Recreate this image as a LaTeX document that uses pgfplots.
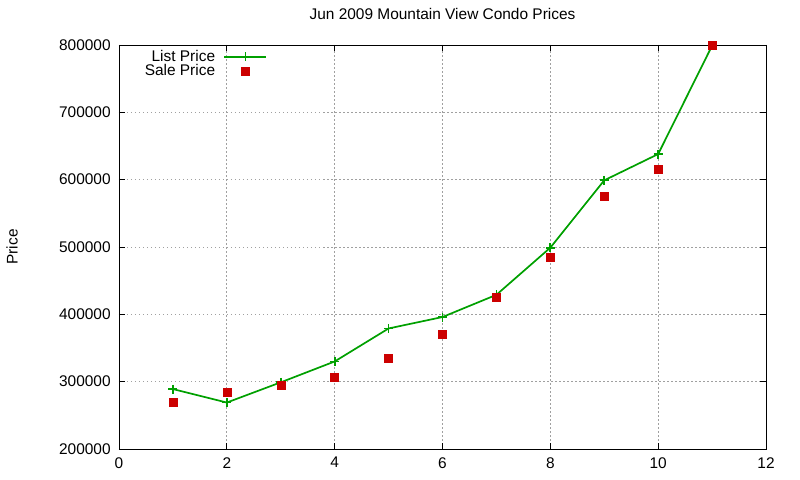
\documentclass[border=0pt]{standalone}
\usepackage{fontspec}
\setmainfont{Liberation Sans}
\usepackage{pgfplots}
\pgfplotsset{compat=1.18}

\definecolor{listgreen}{RGB}{0,160,0}
\definecolor{salered}{RGB}{204,0,0}
\definecolor{gridgray}{RGB}{160,160,160}

\begin{document}
\fontsize{15.5}{18}\selectfont
\begin{tikzpicture}
\begin{axis}[
  scale only axis,
  width=647bp, height=404bp,
  xmin=0, xmax=12, ymin=200000, ymax=800000,
  xtick={0,2,...,12},
  ytick={200000,300000,...,800000},
  scaled y ticks=false,
  /pgf/number format/fixed,
  /pgf/number format/1000 sep={},
  /pgf/number format/assume math mode=true,
  tick align=inside,
  major tick length=6bp,
  tick style={black, line width=0.8bp},
  axis line style={line width=0.8bp},
  grid=major,
  grid style={gridgray, line width=0.8bp, dash pattern=on 1.5bp off 2.5bp},
  xticklabel style={yshift=-3bp},
  yticklabel style={xshift=-3bp},
  title={Jun 2009 Mountain View Condo Prices},
  title style={at={(rel axis cs:0.5,1)}, yshift=25bp, anchor=center, font=\fontsize{15.5}{18}\selectfont},
  ylabel={Price},
  every axis y label/.style={at={(rel axis cs:0,0.5)}, xshift=-107bp, rotate=90, anchor=center},
  legend cell align=right,
  legend plot pos=right,
  legend style={at={(rel axis cs:0.031,0.995)}, anchor=north west, draw=none, fill=none,
    inner sep=1bp, row sep=-3bp, column sep=4bp, font=\fontsize{15.5}{18}\selectfont,
    nodes={inner xsep=4.5bp}},
  legend image code/.code={%
    \draw[mark repeat=2, mark phase=2, #1]
      plot coordinates {(0bp,0bp) (21bp,0bp) (42bp,0bp)};},
]
\addplot[listgreen, line width=1.7bp, mark=+, mark size=4.5bp, mark options={line width=1.7bp}]
  coordinates {(1,289000) (2,269000) (3,299000) (4,330000) (5,379000) (6,396000)
               (7,429000) (8,499000) (9,599000) (10,638000) (11,799000)};
\addlegendentry{List Price}
\addplot[only marks, mark=square*, mark size=4bp, salered, mark options={draw=salered, fill=salered}]
  coordinates {(1,270000) (2,285000) (3,295000) (4,306000) (5,335000) (6,370000)
               (7,426000) (8,485000) (9,576000) (10,615000) (11,799000)};
\addlegendentry{Sale Price}
\end{axis}
\pgfresetboundingbox
\path[use as bounding box] (-119bp,-31bp) rectangle (681bp,449bp);
\end{tikzpicture}
\end{document}
